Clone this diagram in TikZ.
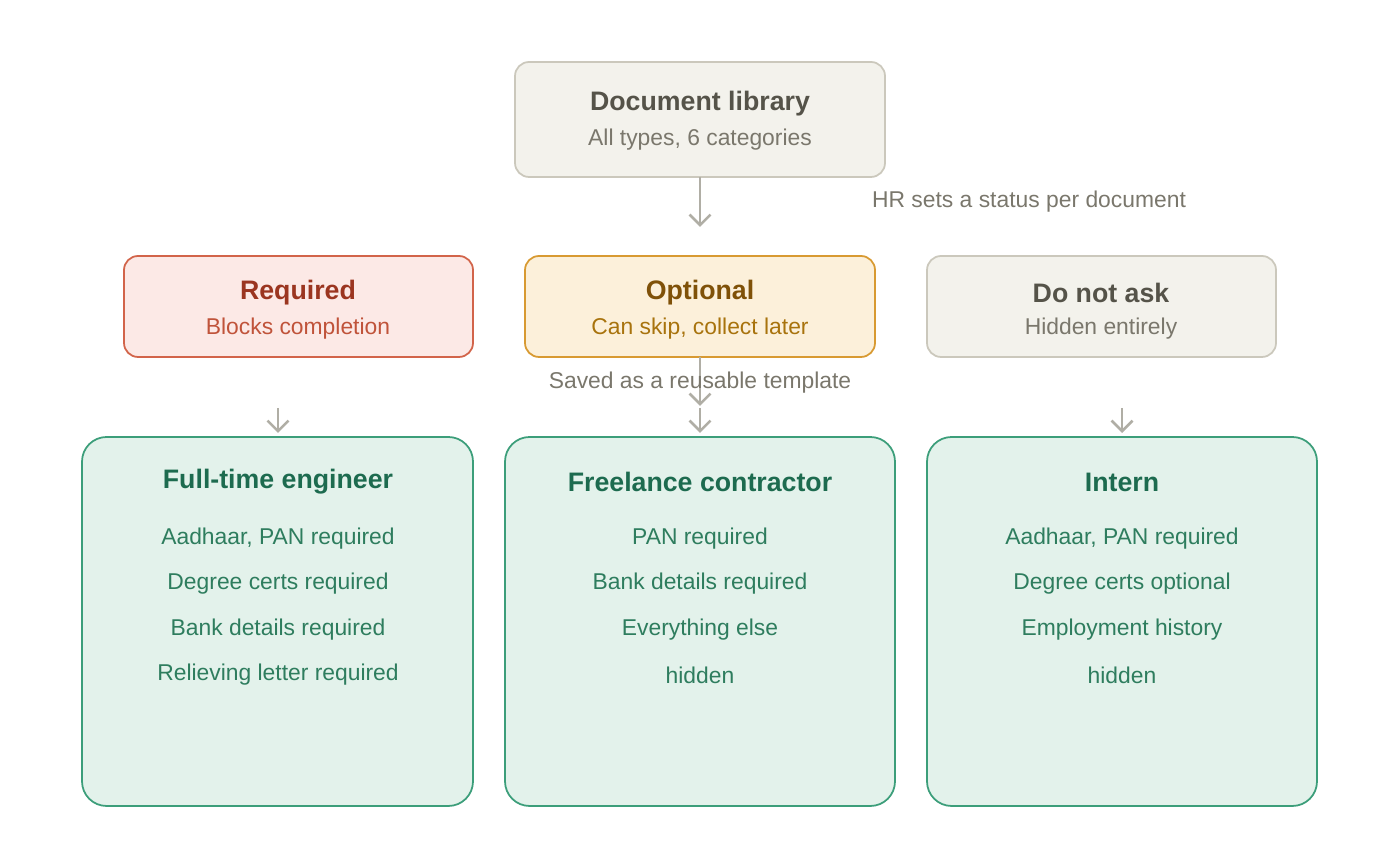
\documentclass[tikz,border=0pt]{standalone}
\usepackage{fontspec}
\setmainfont{Liberation Sans}
\usetikzlibrary{arrows.meta}
\definecolor{greyfill}{HTML}{F3F2EC}
\definecolor{greyline}{HTML}{CBC8BC}
\definecolor{greytitle}{HTML}{555349}
\definecolor{greytext}{HTML}{7A776C}
\definecolor{redfill}{HTML}{FCE9E6}
\definecolor{redline}{HTML}{D2644A}
\definecolor{redtitle}{HTML}{9B3520}
\definecolor{redtext}{HTML}{C0533A}
\definecolor{orfill}{HTML}{FCF0DA}
\definecolor{orline}{HTML}{D89A32}
\definecolor{ortitle}{HTML}{7F5108}
\definecolor{ortext}{HTML}{A8730D}
\definecolor{grfill}{HTML}{E3F2EB}
\definecolor{grline}{HTML}{3C9E7A}
\definecolor{grtitle}{HTML}{1D6B4F}
\definecolor{grtext}{HTML}{2E7D5E}
\definecolor{arrowc}{HTML}{B0AEA5}
\begin{document}
\begin{tikzpicture}
[
  x=0.01cm, y=-0.01cm,
  box/.style={draw, line width=0.5pt, rounded corners=4pt, inner sep=0pt},
  ttl/.style={font=\bfseries\fontsize{7.6}{9}\selectfont},
  sub/.style={font=\fontsize{6.5}{8}\selectfont},
  arr/.style={draw=arrowc, line width=0.75pt, -{Straight Barb[length=3pt,width=6pt]}}
]
\useasboundingbox (0,0) rectangle (1400,865);

% top
\draw[box, draw=greyline, fill=greyfill] (515,62) rectangle (885,177);
\node[ttl, text=greytitle] (lib) at (700,104) {Document library};
\node[sub, text=greytext] (libs) at (700,140) {All types, 6 categories};
\coordinate (libb) at (700,177);
\coordinate (libt) at (700,227);
\draw[arr] (libb) -- (libt);
\node[sub, text=greytext] (hr) at (1029,202) {HR sets a status per document};

% statuses
\draw[box, draw=redline, fill=redfill] (124,256) rectangle (473,357);
\node[ttl, text=redtitle] (req) at (298,293) {Required};
\node[sub, text=redtext] (reqs) at (298,329) {Blocks completion};

\draw[box, draw=orline, fill=orfill] (525,256) rectangle (875,357);
\node[ttl, text=ortitle] (opt) at (700,293) {Optional};
\node[sub, text=ortext] (opts) at (700,329) {Can skip, collect later};

\draw[box, draw=greyline, fill=greyfill] (927,256) rectangle (1276,357);
\node[ttl, text=greytitle] (dna) at (1101,293) {Do not ask};
\node[sub, text=greytext] (dnas) at (1101,329) {Hidden entirely};

\coordinate (optb) at (700,357);
\coordinate (optm) at (700,406);
\draw[arr] (optb) -- (optm);
\node[sub, text=greytext] (saved) at (700,383) {Saved as a reusable template};

% short arrows
\foreach \n/\xx in {a/278, b/700, c/1122}
{
  \coordinate (s\n) at (\xx,408);
  \coordinate (e\n) at (\xx,433);
  \draw[arr] (s\n) -- (e\n);
}

% templates
\draw[box, draw=grline, fill=grfill, rounded corners=7pt] (82,437) rectangle (473,806);
\draw[box, draw=grline, fill=grfill, rounded corners=7pt] (505,437) rectangle (895,806);
\draw[box, draw=grline, fill=grfill, rounded corners=7pt] (927,437) rectangle (1317,806);

\node[ttl, text=grtitle] (fte) at (278,482) {Full-time engineer};
\node[sub, text=grtext] (fte1) at (278,539) {Aadhaar, PAN required};
\node[sub, text=grtext] (fte2) at (278,584) {Degree certs required};
\node[sub, text=grtext] (fte3) at (278,630) {Bank details required};
\node[sub, text=grtext] (fte4) at (278,675) {Relieving letter required};

\node[ttl, text=grtitle] (flc) at (700,482) {Freelance contractor};
\node[sub, text=grtext] (flc1) at (700,539) {PAN required};
\node[sub, text=grtext] (flc2) at (700,584) {Bank details required};
\node[sub, text=grtext] (flc3) at (700,630) {Everything else};
\node[sub, text=grtext] (flc4) at (700,675) {hidden};

\node[ttl, text=grtitle] (int) at (1122,482) {Intern};
\node[sub, text=grtext] (int1) at (1122,539) {Aadhaar, PAN required};
\node[sub, text=grtext] (int2) at (1122,584) {Degree certs optional};
\node[sub, text=grtext] (int3) at (1122,630) {Employment history};
\node[sub, text=grtext] (int4) at (1122,675) {hidden};

\end{tikzpicture}
\end{document}
